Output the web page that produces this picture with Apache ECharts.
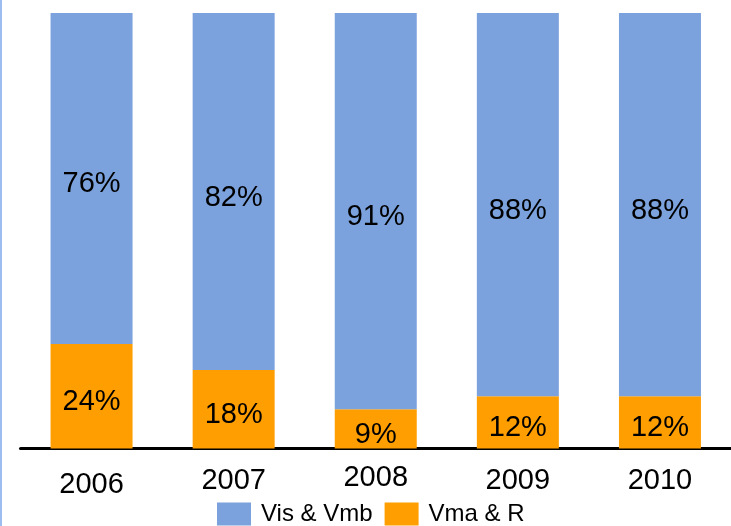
<!DOCTYPE html>
<html>
<head>
<meta charset="utf-8">
<script src="https://cdn.jsdelivr.net/npm/echarts@6/dist/echarts.min.js"></script>
<style>
  html, body { margin: 0; padding: 0; background: #fff; }
  #main { width: 731px; height: 526px; }
</style>
</head>
<body>
<div id="main"></div>
<script>
var years = ["2006", "2007", "2008", "2009", "2010"];
var visVmb = [76, 82, 91, 88, 88];
var vmaR = [24, 18, 9, 12, 12];
// year labels sit at slightly different heights in the original
var yearPad = [7, 3, 0, 3, 3];

var myChart = echarts.init(document.getElementById("main"));
var font = "Liberation Sans, Arial, sans-serif";

var labelStyle = {
  show: true,
  position: "inside",
  offset: [0, 6],
  formatter: "{c}%",
  fontFamily: font,
  fontSize: 29,
  color: "#000"
};

var option = {
  animation: false,
  graphic: [
    {
      type: "rect",
      left: 0,
      top: 0,
      shape: { width: 2, height: 526 },
      style: { fill: "#9dbdf0" }
    }
  ],
  legend: {
    left: 212,
    top: 497,
    itemWidth: 34,
    itemHeight: 23,
    itemGap: 12,
    icon: "rect",
    textStyle: { fontFamily: font, fontSize: 24, color: "#000", padding: [0, 0, 0, 5] },
    data: ["Vis & Vmb", "Vma & R"]
  },
  grid: {
    left: 20.5,
    top: 13,
    width: 725,
    bottom: 77.5,
    containLabel: false
  },
  xAxis: {
    type: "category",
    data: years.map((y, i) => ({
      value: y,
      textStyle: { padding: [yearPad[i], 0, 0, 0] }
    })),
    axisLine: { lineStyle: { color: "#000", width: 3 } },
    axisTick: { show: false },
    axisLabel: {
      fontFamily: font,
      fontSize: 29,
      color: "#000",
      margin: 15
    }
  },
  yAxis: {
    type: "value",
    min: 0,
    max: 100,
    show: false,
    splitLine: { show: false }
  },
  series: [
    {
      name: "Vma & R",
      type: "bar",
      stack: "total",
      barWidth: 82,
      itemStyle: { color: "#ff9e00" },
      label: labelStyle,
      data: vmaR
    },
    {
      name: "Vis & Vmb",
      type: "bar",
      stack: "total",
      barWidth: 82,
      itemStyle: { color: "#7ba2dc" },
      label: labelStyle,
      data: visVmb
    }
  ]
};
myChart.setOption(option);
</script>
</body>
</html>
